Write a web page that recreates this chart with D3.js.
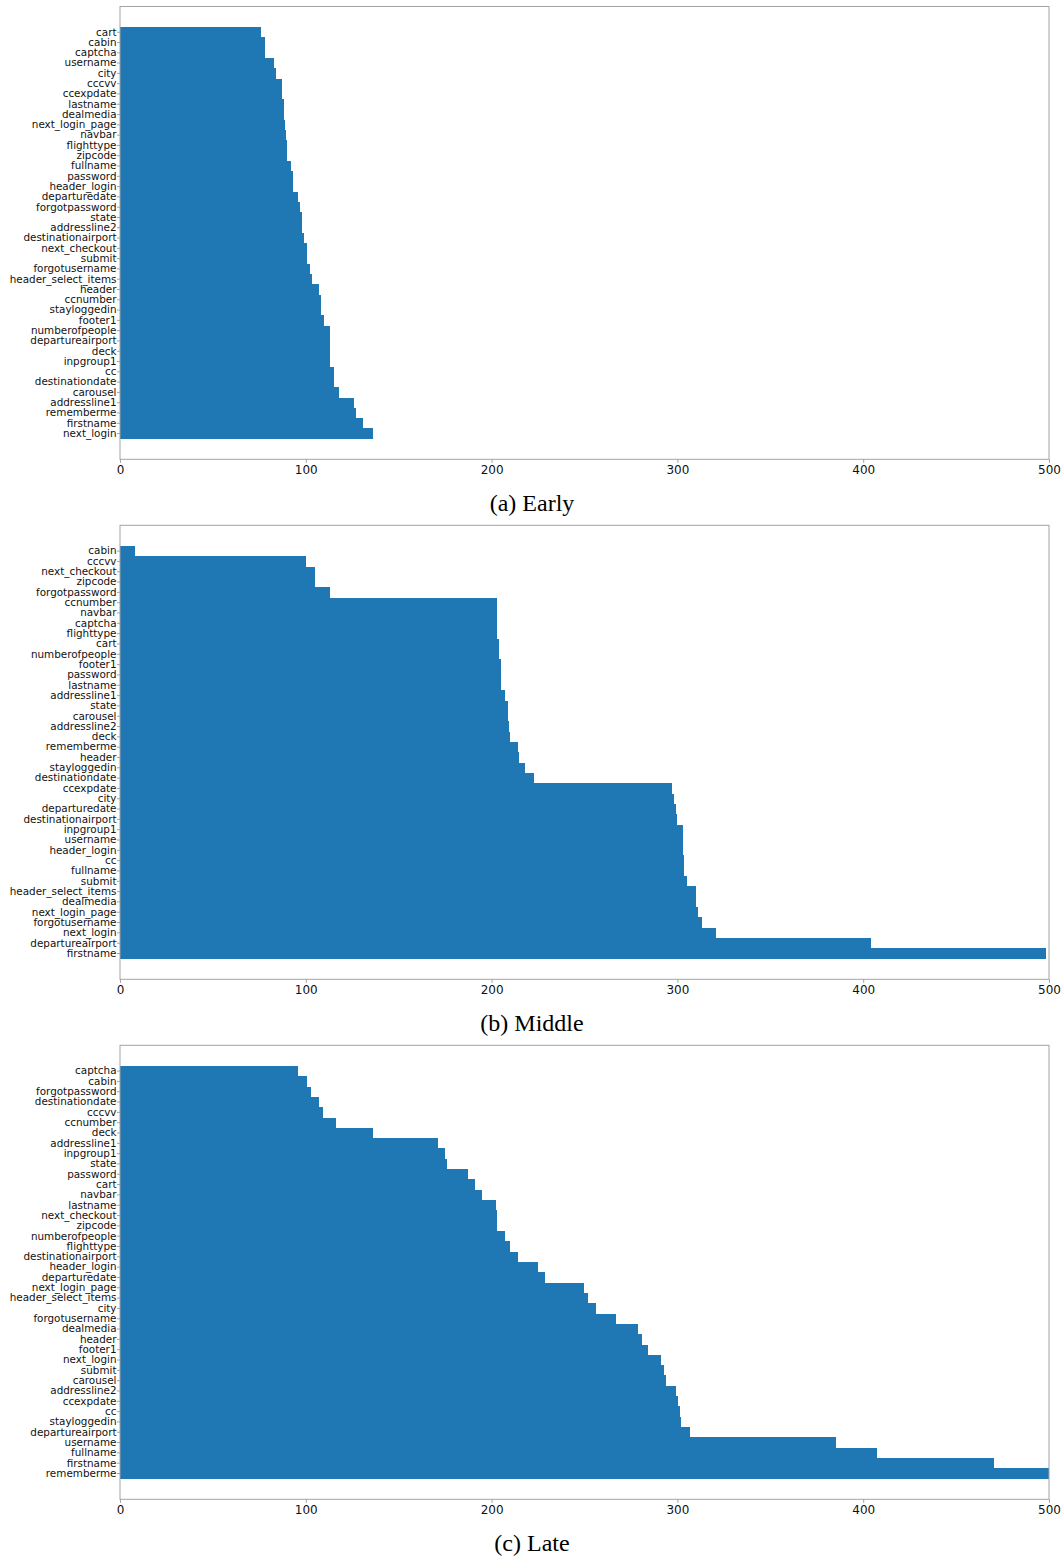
<!DOCTYPE html>
<html>
<head>
<meta charset="utf-8">
<script src="https://cdn.jsdelivr.net/npm/d3@7"></script>
<style>
  html, body { margin: 0; padding: 0; background: #fff; }
  svg { display: block; }
</style>
</head>
<body>
<svg id="chart" width="1064" height="1557"></svg>
<script>
// ---------- Data ----------
const earlyLabels = ["cart","cabin","captcha","username","city","cccvv","ccexpdate","lastname","dealmedia","next_login_page","navbar","flighttype","zipcode","fullname","password","header_login","departuredate","forgotpassword","state","addressline2","destinationairport","next_checkout","submit","forgotusername","header_select_items","header","ccnumber","stayloggedin","footer1","numberofpeople","departureairport","deck","inpgroup1","cc","destinationdate","carousel","addressline1","rememberme","firstname","next_login"];
const earlyValues = [75.9,78.0,78.0,82.9,84.0,87.0,87.2,88.1,88.5,88.8,89.2,90.1,90.1,92.2,93.1,93.1,96.0,97.0,98.0,98.2,99.0,100.8,100.8,102.1,103.2,107.1,108.0,108.0,110.0,112.8,112.8,112.8,112.8,115.0,115.0,118.0,126.0,127.0,131.0,136.0];

const middleLabels = ["cabin","cccvv","next_checkout","zipcode","forgotpassword","ccnumber","navbar","captcha","flighttype","cart","numberofpeople","footer1","password","lastname","addressline1","state","carousel","addressline2","deck","rememberme","header","stayloggedin","destinationdate","ccexpdate","city","departuredate","destinationairport","inpgroup1","username","header_login","cc","fullname","submit","header_select_items","dealmedia","next_login_page","forgotusername","next_login","departureairport","firstname"];
const middleValues = [8.1,100.1,105.1,105.1,113.0,203.1,203.1,203.1,203.1,204.2,204.2,205.1,205.1,205.1,207.0,209.0,209.0,209.2,210.1,214.0,214.9,217.8,222.6,296.9,298.0,299.0,299.9,303.1,303.1,303.1,303.8,303.8,304.9,310.0,310.0,311.0,313.0,321.0,404.0,498.3];

const lateLabels = ["captcha","cabin","forgotpassword","destinationdate","cccvv","ccnumber","deck","addressline1","inpgroup1","state","password","cart","navbar","lastname","next_checkout","zipcode","numberofpeople","flighttype","destinationairport","header_login","departuredate","next_login_page","header_select_items","city","forgotusername","dealmedia","header","footer1","next_login","submit","carousel","addressline2","ccexpdate","cc","stayloggedin","departureairport","username","fullname","firstname","rememberme"];
const lateValues = [96.0,100.8,103.0,107.1,109.1,116.2,136.0,171.0,174.9,176.0,187.1,191.2,195.0,202.2,202.9,202.9,207.0,209.9,214.0,225.1,228.9,249.8,251.7,256.0,267.0,278.9,280.7,284.1,291.0,293.0,293.9,299.2,300.1,301.3,302.2,307.0,385.4,407.3,470.6,502.0];

const xTicks = [0,100,200,300,400,500];
const captions = ["(a) Early","(b) Middle","(c) Late"];

// ---------- Layout ----------
const svg = d3.select("#chart");
const left = 120, right = 1049;
const panels = [
  {labels: earlyLabels,  values: earlyValues,  top: 6.5,    bottom: 459.3,  capY: 511},
  {labels: middleLabels, values: middleValues, top: 525.3,  bottom: 979.3,  capY: 1031},
  {labels: lateLabels,   values: lateValues,   top: 1045.3, bottom: 1499.3, capY: 1551}
];
const barColor = "#1f77b4";
const spineColor = "#a3a3a3";
const textColor = "#111";

panels.forEach((p, idx) => {
  const x = d3.scaleLinear().domain([0, 500]).range([left, right]);
  const y = d3.scaleBand().domain(p.labels).range([p.top, p.bottom])
    .paddingInner(0).paddingOuter(2);

  const clipId = "clip" + idx;
  svg.append("clipPath").attr("id", clipId)
    .append("rect").attr("x", left).attr("y", p.top)
    .attr("width", right - left).attr("height", p.bottom - p.top);

  const g = svg.append("g");

  g.append("g").attr("clip-path", `url(#${clipId})`)
    .attr("shape-rendering", "crispEdges")
    .selectAll("rect").data(p.labels).join("rect")
    .attr("x", x(0))
    .attr("y", d => y(d))
    .attr("width", (d, i) => x(p.values[i]) - x(0))
    .attr("height", y.bandwidth())
    .attr("fill", barColor);

  // frame
  g.append("rect")
    .attr("x", left).attr("y", p.top)
    .attr("width", right - left).attr("height", p.bottom - p.top)
    .attr("fill", "none").attr("stroke", spineColor).attr("stroke-width", 1);

  // x axis
  const xa = g.append("g").attr("transform", `translate(0,${p.bottom})`)
    .call(d3.axisBottom(x).tickValues(xTicks).tickFormat(d3.format("d")).tickSize(3.5).tickPadding(3));
  xa.select(".domain").remove();
  xa.selectAll("line").attr("stroke", spineColor);
  xa.selectAll("text").attr("fill", textColor)
    .style("font-family", "'DejaVu Sans', sans-serif").style("font-size", "12px");

  // y axis
  const ya = g.append("g").attr("transform", `translate(${left},0)`)
    .call(d3.axisLeft(y).tickSize(3).tickPadding(0.5));
  ya.select(".domain").remove();
  ya.selectAll("line").attr("stroke", spineColor);
  ya.selectAll("text").attr("fill", textColor)
    .style("font-family", "'DejaVu Sans', sans-serif").style("font-size", "10.4px");

  // caption
  svg.append("text")
    .attr("x", 532).attr("y", p.capY)
    .attr("text-anchor", "middle")
    .attr("fill", "#000")
    .style("font-family", "'Liberation Serif', 'Times New Roman', serif")
    .style("font-size", "24px")
    .text(captions[idx]);
});
</script>
</body>
</html>
